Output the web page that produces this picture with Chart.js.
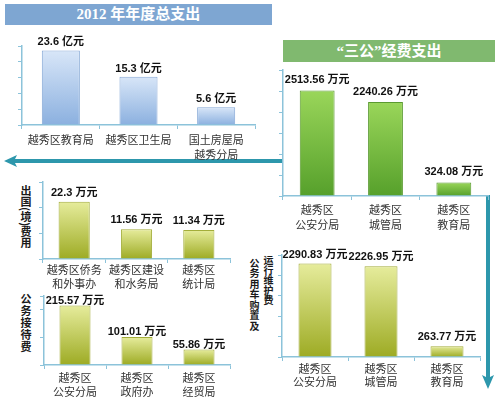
<!DOCTYPE html>
<html>
<head>
<meta charset="utf-8">
<script src="https://cdn.jsdelivr.net/npm/chart.js@4"></script>
<style>
  html, body { margin: 0; padding: 0; background: #fff; }
  #wrap { position: relative; width: 500px; height: 399px; overflow: hidden; }
  canvas { position: absolute; }
  svg { position: absolute; left: 0; top: 0; }
  .banner {
    position: absolute; color: #fff; text-align: center; font-weight: bold;
    font-family: "Liberation Serif", "Noto Sans CJK SC", serif; font-size: 15px;
  }
  .blue { background: #7ea6d2; }
  .green { background: #80b96f; }
  .vt {
    position: absolute; writing-mode: vertical-rl; font-weight: bold; color: #1a1a1a;
    font-family: "Noto Sans CJK SC", sans-serif;
  }
</style>
</head>
<body>
<div id="wrap">
  <svg width="500" height="399">
    <line x1="283" y1="161" x2="14" y2="161" stroke="#2d97ac" stroke-width="4"/>
    <polygon points="4,161 17,155 14,161 17,167" fill="#2d97ac"/>
    <line x1="488" y1="195" x2="488" y2="379" stroke="#2d97ac" stroke-width="4"/>
    <polygon points="488,389 482,375 488,378 494,375" fill="#2d97ac"/>
  </svg>

  <div class="banner blue" style="left:5px;top:4px;width:267px;height:21px;line-height:21px">2012 年年度总支出</div>
  <div class="banner green" style="left:283px;top:40px;width:212px;height:22px;line-height:22px">“三公”经费支出</div>

  <div class="vt" style="left:20px;top:185px;font-size:11px;line-height:12px">出国(境)费用</div>
  <div class="vt" style="left:20px;top:293px;font-size:11px;line-height:12px;letter-spacing:1px">公务接待费</div>
  <div class="vt" style="left:249px;top:258px;font-size:10px;line-height:11px;letter-spacing:0.5px">公务用车购置及</div>
  <div class="vt" style="left:263px;top:255px;font-size:10px;line-height:11px">运行维护费</div>

  <canvas id="c1" width="244" height="139" style="left:17px;top:22px"></canvas>
  <canvas id="c2" width="216" height="186" style="left:278px;top:46px"></canvas>
  <canvas id="c3" width="198" height="137" style="left:38px;top:158px"></canvas>
  <canvas id="c4" width="197" height="129" style="left:39px;top:272px"></canvas>
  <canvas id="c5" width="209" height="162" style="left:277px;top:231px"></canvas>
</div>

<script>
// 2012 年年度总支出 (亿元)
const totalCats = [['越秀区教育局'], ['越秀区卫生局'], ['国土房屋局', '越秀分局']];
const totalValues = [23.6, 15.3, 5.6];
const totalTicks = [25, 5]; // max, step

// “三公”经费支出 (万元)
const sanGongCats = [['越秀区', '公安分局'], ['越秀区', '城管局'], ['越秀区', '教育局']];
const sanGongValues = [2513.56, 2240.26, 324.08];
const sanGongTicks = [3000, 500];

// 出国(境)费用 (万元)
const abroadCats = [['越秀区侨务', '和外事办'], ['越秀区建设', '和水务局'], ['越秀区', '统计局']];
const abroadValues = [22.3, 11.56, 11.34];
const abroadTicks = [30, 10];

// 公务接待费 (万元)
const receptionCats = [['越秀区', '公安分局'], ['越秀区', '政府办'], ['越秀区', '经贸局']];
const receptionValues = [215.57, 101.01, 55.86];
const receptionTicks = [250, 100];

// 公务用车购置及运行维护费 (万元)
const carCats = [['越秀区', '公安分局'], ['越秀区', '城管局'], ['越秀区', '教育局']];
const carValues = [2290.83, 2226.95, 263.77];
const carTicks = [2500, 500];

const axisColor = '#8cc3da';
const blueBar = ['#d8e6f8', '#8bb0df', '#86a8d6'];
const greenBar = ['#9ad65a', '#56a02b', '#5a9a30'];
const oliveBar = ['#e6ec9c', '#9dab24', '#a3ad3a'];

// draws "23.6 亿元" above every bar
const valueLabels = {
  id: 'valueLabels',
  afterDatasetsDraw(chart, args, opts) {
    const ctx = chart.ctx;
    ctx.save();
    ctx.font = 'bold 11px "Liberation Sans", "Noto Sans CJK SC", sans-serif';
    ctx.fillStyle = '#111';
    ctx.textAlign = 'center';
    ctx.textBaseline = 'alphabetic';
    chart.getDatasetMeta(0).data.forEach((bar, i) => {
      const v = chart.data.datasets[0].data[i];
      ctx.fillText(v + ' ' + opts.unit, bar.x, bar.y - opts.gap);
    });
    ctx.restore();
  }
};

function makeBar(id, cats, values, ticks, colors, unit, barPct, gap, labelPad, lineH) {
  const grid = {
    display: true, drawOnChartArea: false, drawTicks: true,
    tickLength: 4, color: axisColor, lineWidth: 1
  };
  const border = { display: true, color: axisColor, width: 1.5 };
  return new Chart(document.getElementById(id), {
    type: 'bar',
    data: {
      labels: cats,
      datasets: [{
        data: values,
        barPercentage: barPct,
        categoryPercentage: 1,
        borderWidth: 1,
        borderColor: colors[2],
        borderSkipped: 'bottom',
        backgroundColor: (c) => {
          const chart = c.chart;
          if (!chart.chartArea || c.type !== 'data') return colors[0];
          const y = chart.scales.y;
          const top = y.getPixelForValue(c.parsed.y);
          const bot = y.getPixelForValue(0);
          const g = chart.ctx.createLinearGradient(0, top, 0, bot);
          g.addColorStop(0, colors[0]);
          g.addColorStop(1, colors[1]);
          return g;
        }
      }]
    },
    options: {
      responsive: false,
      animation: false,
      layout: { padding: { top: 24, right: 6, left: 0, bottom: 0 }, autoPadding: false },
      plugins: {
        legend: { display: false },
        tooltip: { enabled: false },
        valueLabels: { unit: unit, gap: gap }
      },
      scales: {
        x: {
          grid: grid, border: border,
          ticks: {
            maxRotation: 0, minRotation: 0, autoSkip: false, padding: labelPad,
            color: '#333',
            font: { family: '"Noto Sans CJK SC", sans-serif', size: 11, lineHeight: lineH }
          },
          afterFit: (s) => { s.height = 36; }
        },
        y: {
          min: 0, max: ticks[0],
          grid: grid, border: border,
          ticks: { display: false, stepSize: ticks[1] },
          afterFit: (s) => { s.width = 5; }
        }
      }
    },
    plugins: [valueLabels]
  });
}

makeBar('c1', totalCats, totalValues, totalTicks, blueBar, '亿元', 0.49, 5, 3, 1.4);
makeBar('c2', sanGongCats, sanGongValues, sanGongTicks, greenBar, '万元', 0.51, 7, 2, 1.36);
makeBar('c3', abroadCats, abroadValues, abroadTicks, oliveBar, '万元', 0.5, 6, 0, 1.27);
makeBar('c4', receptionCats, receptionValues, receptionTicks, oliveBar, '万元', 0.5, 2, 1, 1.33);
makeBar('c5', carCats, carValues, carTicks, oliveBar, '万元', 0.5, 6, 1, 1.2);
</script>
</body>
</html>
